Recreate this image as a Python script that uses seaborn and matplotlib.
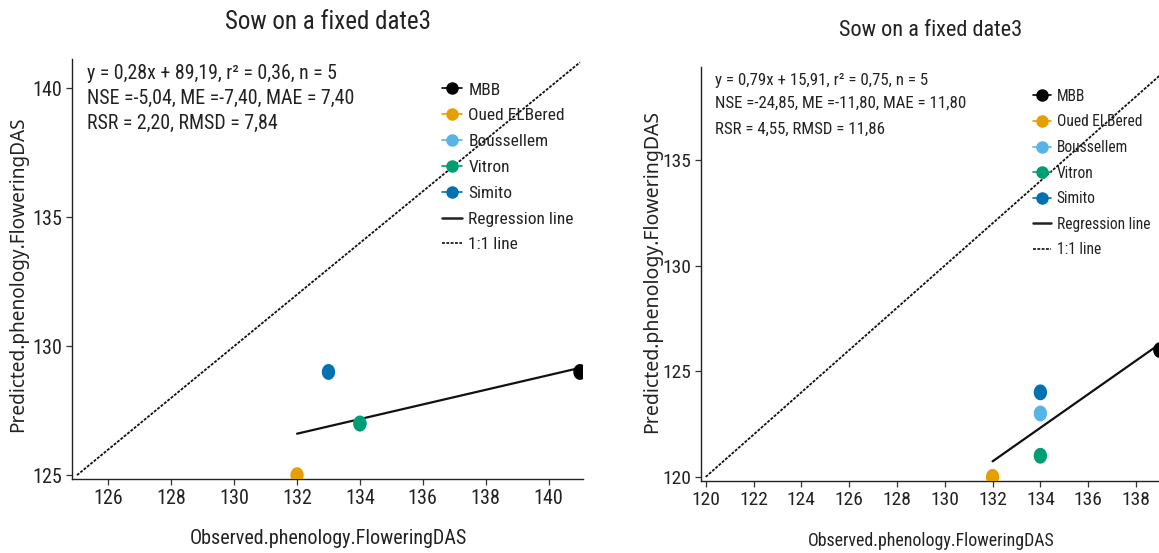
import numpy as np
import pandas as pd
import matplotlib
matplotlib.use("Agg")
import matplotlib.pyplot as plt
from matplotlib import font_manager as fm
from matplotlib.lines import Line2D
from matplotlib.path import Path
import seaborn as sns

# Flowering date (days after sowing): observed vs predicted, two sowing sets
cultivars = ["MBB", "Oued ELBered", "Boussellem", "Vitron", "Simito"]
colors = ["#000000", "#E69F00", "#56B4E9", "#009E73", "#0072B2"]

obs_left = [141, 132, 134, 134, 133]
pred_left = [129, 125, 127, 127, 129]
ticks_left_x = [126, 128, 130, 132, 134, 136, 138, 140]
ticks_left_y = [125, 130, 135, 140]

obs_right = [139, 132, 134, 134, 134]
pred_right = [126, 120, 123, 121, 124]
ticks_right_x = [120, 122, 124, 126, 128, 130, 132, 134, 136, 138]
ticks_right_y = [120, 125, 130, 135]

title = "Sow on a fixed date3"
xlabel = "Observed.phenology.FloweringDAS"
ylabel = "Predicted.phenology.FloweringDAS"

sns.set_theme(style="ticks")

names = {f.name for f in fm.fontManager.ttflist}
narrow = None
for cand in ["Roboto Condensed", "Liberation Sans Narrow", "Open Sans Condensed"]:
    if cand in names:
        narrow = cand
        break
if narrow is None:
    narrow = "Liberation Sans"
plt.rcParams["font.family"] = [narrow, "DejaVu Sans"]
TXT = "#222222"

# slightly tall oval marker
t = np.linspace(0, 2 * np.pi, 60)
oval = Path(np.column_stack([0.84 * np.cos(t), np.sin(t)]), closed=True)


def fmt(v, nd=2):
    return f"{v:.{nd}f}".replace(".", ",")


def stats(obs, pred):
    o = np.asarray(obs, float)
    p = np.asarray(pred, float)
    slope, icpt = np.polyfit(o, p, 1)
    r2 = np.corrcoef(o, p)[0, 1] ** 2
    err = p - o
    rmsd = np.sqrt(np.mean(err ** 2))
    nse = 1 - np.sum(err ** 2) / np.sum((o - o.mean()) ** 2)
    rsr = rmsd / o.std(ddof=1)
    return [
        f"y = {fmt(slope)}x + {fmt(icpt)}, r\u00b2 = {fmt(r2)}, n = {len(o)}",
        f"NSE ={fmt(nse)}, ME ={fmt(err.mean())}, MAE = {fmt(np.abs(err).mean())}",
        f"RSR = {fmt(rsr)}, RMSD = {fmt(rmsd)}",
    ]


def panel(fig, rect, obs, pred, xlim, ylim, xt, yt, tick_fs, ann_fs, ann_y,
          leg_fs, leg_anchor, leg_space):
    ax = fig.add_axes(rect)
    df = pd.DataFrame({"obs": obs, "pred": pred, "cultivar": cultivars})
    lo = min(min(obs), min(pred))
    hi = max(max(obs), max(pred))
    ax.plot([lo, hi], [lo, hi], color="#111111", lw=1.3,
            linestyle=(0, (1.6, 0.8)), zorder=1)
    sns.regplot(data=df, x="obs", y="pred", ax=ax, scatter=False, ci=None,
                truncate=True, line_kws={"color": "#111111", "lw": 1.6, "zorder": 2})
    sns.scatterplot(data=df, x="obs", y="pred", hue="cultivar",
                    palette=dict(zip(cultivars, colors)), marker=oval, s=130,
                    linewidth=0, ax=ax, legend=False, zorder=3, clip_on=True)
    ax.set_xlim(*xlim)
    ax.set_ylim(*ylim)
    ax.set_xticks(xt)
    ax.set_yticks(yt)
    ax.set_xlabel("")
    ax.set_ylabel("")
    for s in ["top", "right"]:
        ax.spines[s].set_visible(False)
    for s in ["left", "bottom"]:
        ax.spines[s].set_color("#222222")
        ax.spines[s].set_linewidth(1.0)
    ax.tick_params(axis="both", length=4, width=0.9, color="#333333",
                   labelsize=tick_fs, labelcolor=TXT, pad=3)

    for line, yy in zip(stats(obs, pred), ann_y):
        ax.text(0.03, yy, line, transform=ax.transAxes,
                fontsize=ann_fs, color=TXT, va="center", ha="left")

    handles = [Line2D([], [], color=c, marker="o", markersize=9, lw=1.2,
                      markeredgewidth=0) for c in colors]
    handles += [Line2D([], [], color="#222222", lw=1.8),
                Line2D([], [], color="#222222", lw=1.3, linestyle=(0, (1.6, 0.8)))]
    labels = cultivars + ["Regression line", "1:1 line"]
    ax.legend(handles, labels, loc="upper left", bbox_to_anchor=leg_anchor,
              frameon=False, fontsize=leg_fs, handlelength=1.2,
              handletextpad=0.35, labelspacing=leg_space, borderpad=0,
              borderaxespad=0, labelcolor=TXT)
    return ax


fig = plt.figure(figsize=(11.59, 5.53), dpi=100)

panel(fig, [0.0621, 0.1338, 0.441, 0.759], obs_left, pred_left,
      (124.84, 141.1), (124.85, 141.12), ticks_left_x, ticks_left_y,
      14.5, 14.3, [0.967, 0.907, 0.848], 12.5, (0.723, 0.945), 0.615)
panel(fig, [0.6048, 0.130, 0.397, 0.749], obs_right, pred_right,
      (119.8, 139.05), (119.8, 139.4), ticks_right_x, ticks_right_y,
      14, 12.2, [0.967, 0.911, 0.850], 11.2, (0.721, 0.947), 0.68)

fig.text(328 / 1159, 1 - 22 / 553, title, fontsize=18, color=TXT,
         ha="center", va="center")
fig.text(931 / 1159, 1 - 30 / 553, title, fontsize=16, color=TXT,
         ha="center", va="center")
fig.text(328 / 1159, 1 - 538 / 553, xlabel, fontsize=14.5, color=TXT,
         ha="center", va="center")
fig.text(931 / 1159, 1 - 541 / 553, xlabel, fontsize=12.9, color=TXT,
         ha="center", va="center")
fig.text(18 / 1159, 1 - 274 / 553, ylabel, fontsize=13.7, color=TXT, rotation=90,
         ha="center", va="center", family=["Noto Sans", "DejaVu Sans"])
fig.text(652 / 1159, 1 - 272 / 553, ylabel, fontsize=14, color=TXT, rotation=90,
         ha="center", va="center", family=["Noto Sans", "DejaVu Sans"])

fig.savefig("out.png", dpi=100, facecolor="white")
